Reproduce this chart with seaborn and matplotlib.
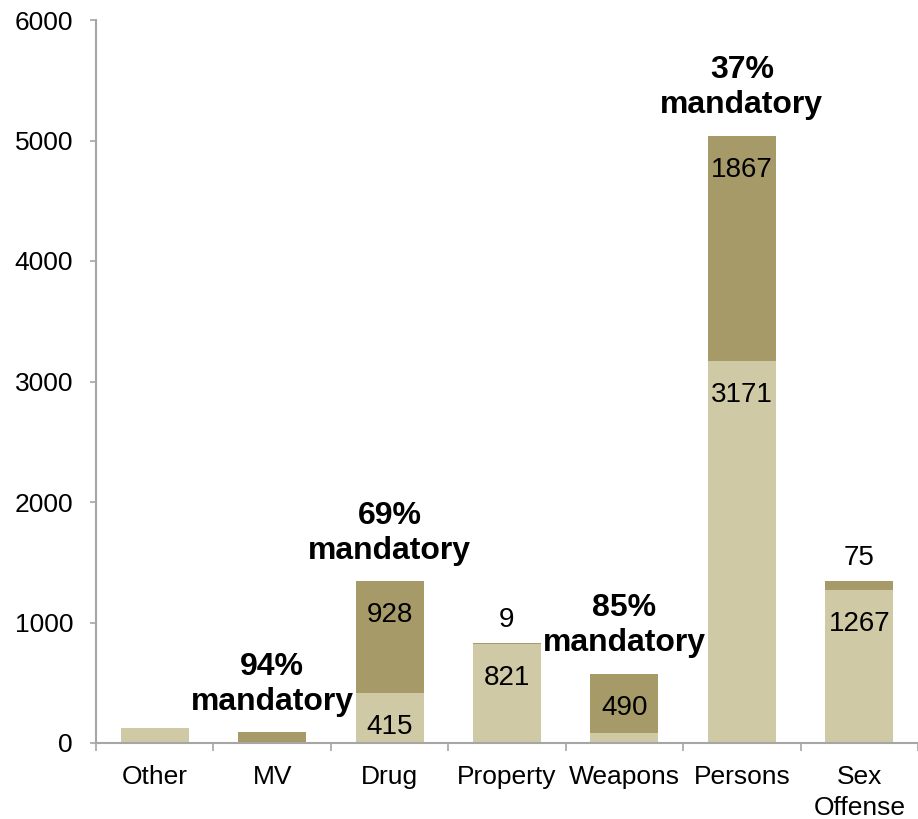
import matplotlib
matplotlib.use("Agg")
import matplotlib.pyplot as plt
import seaborn as sns
import pandas as pd
import numpy as np

categories = ["Other", "MV", "Drug", "Property", "Weapons", "Persons", "Sex\nOffense"]
non_mandatory = [124, 5, 415, 821, 86, 3171, 1267]
mandatory = [0, 86, 928, 9, 490, 1867, 75]
inside_light = [None, None, "415", "821", None, "3171", "1267"]
inside_dark = [None, None, "928", None, "490", "1867", None]
above_labels = [None, None, None, "9", None, None, "75"]
pct_labels = [None, "94%\nmandatory", "69%\nmandatory", None, "85%\nmandatory", "37%\nmandatory", None]

light = "#CFC9A5"
dark = "#A69A68"

sns.set_style("white")
plt.rcParams["font.family"] = ["Liberation Sans", "DejaVu Sans"]
plt.rcParams["text.color"] = "black"
plt.rcParams["xtick.labelcolor"] = "black"
plt.rcParams["ytick.labelcolor"] = "black"

df = pd.DataFrame({
    "category": categories,
    "non_mandatory": non_mandatory,
    "mandatory": mandatory,
})
df["total"] = df["non_mandatory"] + df["mandatory"]

fig = plt.figure(figsize=(9.18, 8.19), dpi=100)
ax = fig.add_axes([96 / 918, 1 - 743 / 819, 1 - 96 / 918, (743 - 20) / 819])

sns.barplot(data=df, x="category", y="total", color=dark, width=0.58,
            saturation=1, linewidth=0, ax=ax)
sns.barplot(data=df, x="category", y="non_mandatory", color=light, width=0.58,
            saturation=1, linewidth=0, ax=ax)

ax.set_ylim(0, 6000)
ax.set_xlim(-0.5, len(categories) - 0.5)
ax.set_yticks(np.arange(0, 6001, 1000))
ax.set_xticks(np.arange(len(categories)))
ax.set_xticklabels(categories, linespacing=1.38, va="top")
ax.set_xlabel("")
ax.set_ylabel("")

for s in ["top", "right"]:
    ax.spines[s].set_visible(False)
for s in ["left", "bottom"]:
    ax.spines[s].set_color("#A6A6A6")
    ax.spines[s].set_linewidth(1.5)

ax.tick_params(axis="y", which="major", direction="out", length=4.5, width=1.2,
               color="#A6A6A6", pad=12, labelsize=19, left=True, labelcolor="black")
ax.tick_params(axis="x", which="major", length=0, pad=16, labelsize=19, labelcolor="black")
ax.set_xticks(np.arange(-0.5, len(categories), 1.0), minor=True)
ax.tick_params(axis="x", which="minor", direction="out", length=6, width=1.2,
               color="#A6A6A6", bottom=True)

for i in range(len(categories)):
    nm = non_mandatory[i]
    tot = nm + mandatory[i]
    if inside_light[i]:
        ax.annotate(inside_light[i], xy=(i, nm), xytext=(0, -34),
                    textcoords="offset pixels", ha="center", va="center",
                    fontsize=20, color="black")
    if inside_dark[i]:
        ax.annotate(inside_dark[i], xy=(i, tot), xytext=(0, -34),
                    textcoords="offset pixels", ha="center", va="center",
                    fontsize=20, color="black")
    if above_labels[i]:
        ax.annotate(above_labels[i], xy=(i, tot), xytext=(0, 23),
                    textcoords="offset pixels", ha="center", va="center",
                    fontsize=20, color="black")
    if pct_labels[i]:
        ax.annotate(pct_labels[i], xy=(i, tot), xytext=(0, 48),
                    textcoords="offset pixels", ha="center", va="center",
                    fontsize=23, fontweight="bold", linespacing=1.22, color="black")

fig.savefig("out.png", dpi=100)
